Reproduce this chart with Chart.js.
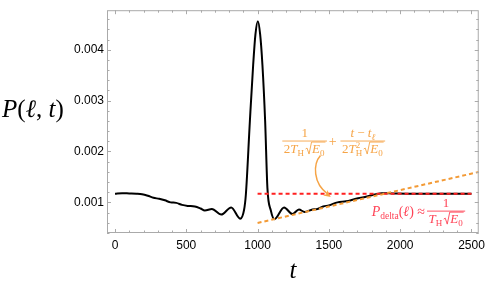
<!DOCTYPE html>
<html>
<head>
<meta charset="utf-8">
<script src="https://cdn.jsdelivr.net/npm/chart.js@4"></script>
<style>
  html, body { margin: 0; padding: 0; background: #fff; }
  canvas { display: block; }
</style>
</head>
<body>
<canvas id="chart" width="490" height="284"></canvas>
<script>
// P(l, t)
const tValues = [0, 50, 100, 150, 190, 230, 270, 310, 350, 390, 430, 470, 510, 560, 600, 630, 680, 745, 815, 878, 905,
  918, 946, 969, 985, 1002, 1018, 1034, 1053, 1069, 1093, 1118, 1186, 1244, 1290, 1330, 1385, 1420, 1460, 1500,
  1560, 1620, 1690, 1760, 1830, 1870, 1950, 2050, 2150, 2500];
const pValues = [0.00117, 0.00118, 0.001175, 0.00117, 0.00116, 0.00113, 0.00109, 0.00107, 0.00104, 0.001, 0.00099,
  0.00095, 0.00093, 0.00092, 0.00088, 0.00084, 0.00087, 0.00076, 0.0009, 0.00068, 0.00085,
  0.00116, 0.0026, 0.0037, 0.0043, 0.00456, 0.0043, 0.0037, 0.0026, 0.00128, 0.00084, 0.00067, 0.0009, 0.00077,
  0.00086, 0.00081, 0.00086, 0.00087, 0.00092, 0.00094,
  0.001, 0.00102, 0.00107, 0.00111, 0.00116, 0.00118, 0.001175, 0.00117, 0.00117, 0.00117];

// linear approximation (orange) and delta limit (red)
const fitT = [1000, 2551];
const fitP = [0.000595, 0.001597];
const deltaT = [1000, 2500];
const deltaP = [0.00117, 0.00117];

const xTicks = [0, 500, 1000, 1500, 2000, 2500];
const yTicks = [0.001, 0.002, 0.003, 0.004];

const ORANGE_LINE = '#F39A35';
const ORANGE_TEXT = '#F6A446';
const RED_LINE = '#FF2020';
const RED_TEXT = '#FF4255';
const FRAME = '#aaaaaa';
const SANS = '"Liberation Sans", Arial, sans-serif';
const SERIF = '"Liberation Serif", "DejaVu Serif", serif';
const it = s => `italic ${s}px ${SERIF}`;
const up = s => `${s}px ${SERIF}`;
const FS = 13;   // formula font size
const SS = 9;    // script size

function toPoints(xs, ys) {
    return xs.map((x, i) => ({ x: x, y: ys[i] }));
}

// small math text layout
function runWidth(ctx, r) {
    if (r.sqrt) return 7 + r.sqrt.reduce((w, q) => w + runWidth(ctx, q), 0) + 1;
    if (r.sub !== undefined) {
        ctx.font = r.f;
        return Math.max(ctx.measureText(r.sub).width, ctx.measureText(r.sup).width) + (r.sp || 0);
    }
    ctx.font = r.f;
    return ctx.measureText(r.t).width + (r.sp || 0);
}

function drawRuns(ctx, runs, x, y) {
    runs.forEach(r => {
        const w = runWidth(ctx, r);
        if (r.sqrt) {
            const inner = w - 8;
            ctx.save();
            ctx.lineWidth = 0.9;
            ctx.strokeStyle = ctx.fillStyle;
            ctx.beginPath();
            ctx.moveTo(x + 0.5, y - 4);
            ctx.lineTo(x + 2, y - 5);
            ctx.lineTo(x + 4, y + 1);
            ctx.lineTo(x + 6.5, y - 11);
            ctx.lineTo(x + 7 + inner + 1, y - 11);
            ctx.stroke();
            ctx.restore();
            drawRuns(ctx, r.sqrt, x + 7, y);
        } else if (r.sub !== undefined) {
            ctx.font = r.f;
            ctx.fillText(r.sub, x, y + 3);
            ctx.fillText(r.sup, x, y - 5);
        } else {
            ctx.font = r.f;
            ctx.fillText(r.t, x, y + (r.dy || 0));
        }
        x += w;
    });
}

function widthOf(ctx, runs) {
    return runs.reduce((w, r) => w + runWidth(ctx, r), 0);
}

function drawFrac(ctx, num, den, cx, barY) {
    const wn = widthOf(ctx, num);
    const wd = widthOf(ctx, den);
    const wb = Math.max(wn, wd) + 3;
    drawRuns(ctx, num, cx - wn / 2, barY - 4);
    drawRuns(ctx, den, cx - wd / 2, barY + 12);
    ctx.save();
    ctx.lineWidth = 0.9;
    ctx.strokeStyle = ctx.fillStyle;
    ctx.beginPath();
    ctx.moveTo(cx - wb / 2, barY);
    ctx.lineTo(cx + wb / 2, barY);
    ctx.stroke();
    ctx.restore();
}

// Frame with inward ticks (all four sides)
const framePlugin = {
    id: 'frame',
    afterDatasetsDraw(chart) {
        const { ctx, chartArea: a, scales } = chart;
        const xs = scales.x, ys = scales.y;
        ctx.save();
        ctx.strokeStyle = FRAME;
        ctx.lineWidth = 1;
        ctx.strokeRect(a.left + 0.5, a.top + 0.5, a.right - a.left - 1, a.bottom - a.top - 1);
        ctx.beginPath();
        for (let v = 0; v <= 2500; v += 100) {
            const px = Math.round(xs.getPixelForValue(v)) + 0.5;
            const len = v % 500 === 0 ? 4 : 2.5;
            ctx.moveTo(px, a.bottom); ctx.lineTo(px, a.bottom - len);
            ctx.moveTo(px, a.top); ctx.lineTo(px, a.top + len);
        }
        for (let k = 2; k <= 23; k++) {
            const v = k * 0.0002;
            const py = Math.round(ys.getPixelForValue(v)) + 0.5;
            const len = k % 5 === 0 ? 4 : 2.5;
            ctx.moveTo(a.left, py); ctx.lineTo(a.left + len, py);
            ctx.moveTo(a.right, py); ctx.lineTo(a.right - len, py);
        }
        ctx.stroke();
        ctx.restore();
    }
};

// labels, arrow and formulas
const notesPlugin = {
    id: 'notes',
    afterDraw(chart) {
        const { ctx, scales } = chart;
        const px = (t, v) => [scales.x.getPixelForValue(t), scales.y.getPixelForValue(v)];
        ctx.save();
        ctx.textBaseline = 'alphabetic';
        ctx.textAlign = 'left';

        // axis labels
        ctx.fillStyle = '#000';
        drawRuns(ctx, [
            { t: 'P', f: it(25) }, { t: '(', f: up(25) }, { t: 'ℓ', f: it(25) },
            { t: ', ', f: up(25) }, { t: 't', f: it(25) }, { t: ')', f: up(25) }
        ], 2, 117);
        ctx.font = it(25);
        const tw = ctx.measureText('t').width;
        const midX = (chart.chartArea.left + chart.chartArea.right) / 2;
        ctx.fillText('t', midX - tw / 2, 278);

        // orange formula
        ctx.fillStyle = ORANGE_TEXT;
        const denA = [
            { t: '2', f: up(FS) }, { t: 'T', f: it(FS) }, { t: 'H', f: up(SS), dy: 3, sp: 1 },
            { sqrt: [{ t: 'E', f: it(FS) }, { t: '0', f: up(SS), dy: 3 }] }
        ];
        const denB = [
            { t: '2', f: up(FS) }, { t: 'T', f: it(FS) }, { sub: 'H', sup: '2', f: up(SS), sp: 1 },
            { sqrt: [{ t: 'E', f: it(FS) }, { t: '0', f: up(SS), dy: 3 }] }
        ];
        let p = px(1330, 0.002205);
        drawFrac(ctx, [{ t: '1', f: up(FS) }], denA, p[0], p[1]);
        p = px(1528, 0.002205);
        ctx.font = up(14);
        ctx.fillText('+', p[0] - 4, p[1] + 4.5);
        p = px(1738, 0.002205);
        drawFrac(ctx, [
            { t: 't', f: it(FS) }, { t: ' − ', f: up(FS) }, { t: 't', f: it(FS) }, { t: 'ℓ', f: it(SS), dy: 3 }
        ], denB, p[0], p[1]);

        // arrow
        const a0 = px(1441, 0.001922), c1 = px(1388, 0.001755), c2 = px(1388, 0.001373), a1 = px(1513, 0.001105);
        ctx.strokeStyle = ORANGE_TEXT;
        ctx.lineWidth = 1.5;
        ctx.beginPath();
        ctx.moveTo(a0[0], a0[1]);
        ctx.bezierCurveTo(c1[0], c1[1], c2[0], c2[1], a1[0] - 3, a1[1] - 3);
        ctx.stroke();
        const ang = Math.atan2(a1[1] - c2[1], a1[0] - c2[0]);
        ctx.beginPath();
        ctx.moveTo(a1[0], a1[1]);
        ctx.lineTo(a1[0] - 7 * Math.cos(ang) + 3.5 * Math.sin(ang), a1[1] - 7 * Math.sin(ang) - 3.5 * Math.cos(ang));
        ctx.lineTo(a1[0] - 5 * Math.cos(ang), a1[1] - 5 * Math.sin(ang));
        ctx.lineTo(a1[0] - 7 * Math.cos(ang) - 3.5 * Math.sin(ang), a1[1] - 7 * Math.sin(ang) + 3.5 * Math.cos(ang));
        ctx.closePath();
        ctx.fillStyle = ORANGE_TEXT;
        ctx.fill();

        // red formula
        ctx.fillStyle = RED_TEXT;
        p = px(1800, 0.000732);
        drawRuns(ctx, [
            { t: 'P', f: it(14) }, { t: 'delta', f: up(9.5), dy: 3 }, { t: '(', f: up(14) }, { t: 'ℓ', f: it(14) },
            { t: ') ≈', f: up(14) }
        ], p[0], p[1]);
        p = px(2322, 0.000828);
        drawFrac(ctx, [{ t: '1', f: up(FS) }], [
            { t: 'T', f: it(FS) }, { t: 'H', f: up(SS), dy: 3, sp: 1 },
            { sqrt: [{ t: 'E', f: it(FS) }, { t: '0', f: up(SS), dy: 3 }] }
        ], p[0], p[1]);
        ctx.restore();
    }
};

const chart = new Chart(document.getElementById('chart').getContext('2d'), {
    type: 'line',
    data: {
        datasets: [
            {
                label: 'linear',
                data: toPoints(fitT, fitP),
                borderColor: ORANGE_LINE,
                borderWidth: 2,
                borderDash: [4, 3],
                pointRadius: 0,
                order: 1
            },
            {
                label: 'delta',
                data: toPoints(deltaT, deltaP),
                borderColor: RED_LINE,
                borderWidth: 2,
                borderDash: [4, 3],
                pointRadius: 0,
                order: 1
            },
            {
                label: 'P',
                data: toPoints(tValues, pValues),
                borderColor: '#000',
                borderWidth: 2,
                pointRadius: 0,
                cubicInterpolationMode: 'monotone',
                order: 2
            }
        ]
    },
    options: {
        responsive: false,
        animation: false,
        layout: { padding: { top: 4, right: 9, left: 0, bottom: 0 } },
        plugins: { legend: { display: false }, tooltip: { enabled: false } },
        scales: {
            x: {
                type: 'linear',
                min: -56,
                max: 2551,
                afterBuildTicks: s => { s.ticks = xTicks.map(v => ({ value: v })); },
                afterFit: s => { s.height = 51; },
                grid: { display: false, drawTicks: false },
                border: { display: false },
                ticks: {
                    font: { family: SANS, size: 12 }, color: '#000', padding: 5, maxRotation: 0, autoSkip: false,
                    callback: v => String(v)
                }
            },
            y: {
                type: 'linear',
                min: 0.000398,
                max: 0.004776,
                afterBuildTicks: s => { s.ticks = yTicks.map(v => ({ value: v })); },
                afterFit: s => { s.width = 107; },
                grid: { display: false, drawTicks: false },
                border: { display: false },
                ticks: {
                    font: { family: SANS, size: 12 }, color: '#000', padding: 3,
                    callback: v => v.toFixed(3)
                }
            }
        }
    },
    plugins: [framePlugin, notesPlugin]
});
</script>
</body>
</html>
